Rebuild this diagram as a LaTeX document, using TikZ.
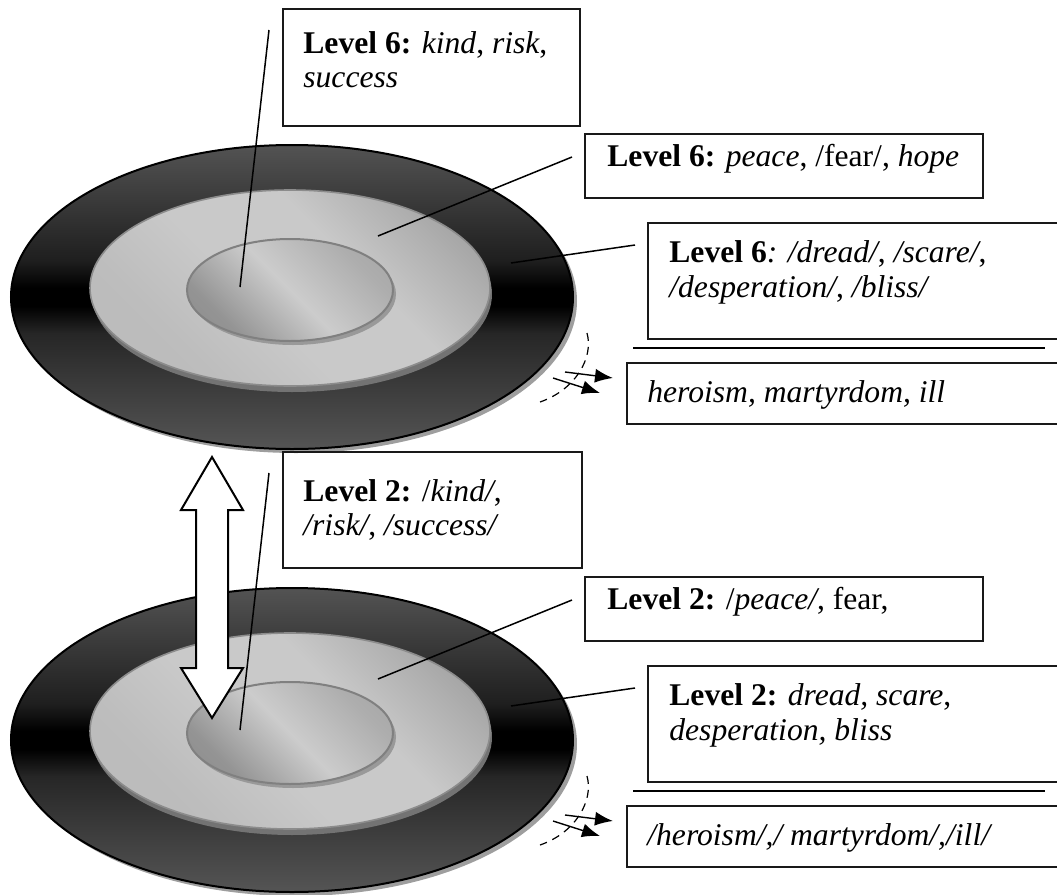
\documentclass[tikz,border=0pt]{standalone}
\usepackage{fontspec}
\setmainfont{Liberation Serif}
\usetikzlibrary{arrows.meta}
\pgfdeclareverticalshading{ringshade}{100bp}{color(0bp)=(black!62); color(20bp)=(black!62); color(44bp)=(black!85); color(48.5bp)=(black); color(51.5bp)=(black); color(56bp)=(black!88); color(80bp)=(black!62); color(100bp)=(black!62)}
\pgfdeclarehorizontalshading{plateshade}{100bp}{color(0bp)=(black!28); color(30bp)=(black!26); color(45bp)=(black!21); color(60bp)=(black!21); color(78bp)=(black!36); color(100bp)=(black!40)}
\pgfdeclarehorizontalshading{innershade}{100bp}{color(0bp)=(black!48); color(28bp)=(black!42); color(50bp)=(black!20); color(72bp)=(black!32); color(100bp)=(black!40)}
\tikzset{
  boxline/.style={draw=black!90, line width=1pt},
  lead/.style={draw=black, line width=0.75pt},
  txt/.style={anchor=base west, inner sep=0pt, font=\fontsize{15.8pt}{19pt}\selectfont},
  flowarrow/.style={-{Latex[length=9pt,width=7pt]}, line width=0.7pt},
  arc/.style={line width=0.6pt, dash pattern=on 4pt off 3pt},
}
\newcommand\mydisc[2]{%
\begin{scope}[shift={(0,#1)}]
  % outer ring
  \fill[black!38] (296,301) ellipse [x radius=281, y radius=152];
  \shade[shading=ringshade] (292,297) ellipse [x radius=281, y radius=152];
  \draw[line width=1pt] (292,297) ellipse [x radius=281, y radius=152];
  % middle plate
  \fill[black!55] (292,294) ellipse [x radius=200, y radius=98];
  \shade[shading=plateshade, shading angle=45] (290,288) ellipse [x radius=200, y radius=98];
  \draw[black!45, line width=0.8pt] (290,288) ellipse [x radius=200, y radius=98];
  % inner plate
  \fill[black!40] (293,294) ellipse [x radius=103, y radius=51];
  \shade[shading=innershade, shading angle=45] (290,290) ellipse [x radius=103, y radius=51];
  \draw[black!50, line width=1pt] (290,290) ellipse [x radius=103, y radius=51];
  % rotation hint
  \draw[arc] (587,333) .. controls (594,358) and (575,390) .. (540,402);
  \coordinate (#2aS) at (565,372); \coordinate (#2aE) at (613,378);
  \coordinate (#2bS) at (553,378); \coordinate (#2bE) at (600,393);
  \draw[flowarrow] (#2aS) -- (#2aE);
  \draw[flowarrow] (#2bS) -- (#2bE);
  % leader line anchors
  \coordinate (#2inner) at (240,287);
  \coordinate (#2middle) at (378,236);
  \coordinate (#2outer) at (511,263);
  \coordinate (#2Ltop) at (269,30);
  \coordinate (#2Lmid) at (572,157);
  \coordinate (#2Lout) at (635,245);
\end{scope}}
\begin{document}
\begin{tikzpicture}[x=0.5pt,y=-0.5pt]
\useasboundingbox (0,0) rectangle (1057,895);
\clip (0,0) rectangle (1057,895);
\fill[white] (0,0) rectangle (1057,895);

\mydisc{0}{T}
\mydisc{443}{B}

% double arrow between the discs
\filldraw[fill=white, draw=black, line width=1pt]
  (212,457) -- (243,510) -- (228,510) -- (228,668) -- (243,668) -- (212,718)
  -- (181,668) -- (196,668) -- (196,510) -- (181,510) -- cycle;

% leader lines
\draw[lead] (TLtop) -- (Tinner);
\draw[lead] (TLmid) -- (Tmiddle);
\draw[lead] (TLout) -- (Touter);
\draw[lead] (BLtop) -- (Binner);
\draw[lead] (BLmid) -- (Bmiddle);
\draw[lead] (BLout) -- (Bouter);

% ---- upper boxes
\draw[boxline] (283,9) rectangle (580,126);
\node[txt] (a1) at (303,53) {\textbf{Level 6:} \textit{kind}, \textit{risk},};
\node[txt] (a2) at (303,87) {\textit{success}};

\draw[boxline] (585,134) rectangle (983,198);
\node[txt] (b1) at (607,166) {\textbf{Level 6:} \textit{peace}, /fear/, \textit{hope}};

\draw[boxline] (648,223) rectangle (1070,339);
\node[txt] (c1) at (669,262) {\textbf{Level 6}\textit{: /dread/}, \textit{/scare/},};
\node[txt] (c2) at (669,297) {\textit{/desperation/}, \textit{/bliss/}};

\draw[line width=1pt] (633,348) -- (1045,348);

\draw[boxline] (627,363) rectangle (1070,424);
\node[txt] (d1) at (647,402) {\textit{heroism, martyrdom, ill}};

% ---- lower boxes
\draw[boxline] (283,452) rectangle (582,568);
\node[txt] (e1) at (303,501) {\textbf{Level 2:} /\textit{kind/},};
\node[txt] (e2) at (303,535) {\textit{/risk/}, \textit{/success/}};

\draw[boxline] (585,577) rectangle (983,641);
\node[txt] (f1) at (607,609) {\textbf{Level 2:} /\textit{peace/}, fear,};

\draw[boxline] (648,666) rectangle (1070,782);
\node[txt] (g1) at (669,705) {\textbf{Level 2:} \textit{dread, scare},};
\node[txt] (g2) at (669,740) {\textit{desperation, bliss}};

\draw[line width=1pt] (633,791) -- (1045,791);

\draw[boxline] (627,806) rectangle (1070,867);
\node[txt] (h1) at (647,845) {\textit{/heroism/,/ martyrdom/,/ill/}};
\end{tikzpicture}
\end{document}
